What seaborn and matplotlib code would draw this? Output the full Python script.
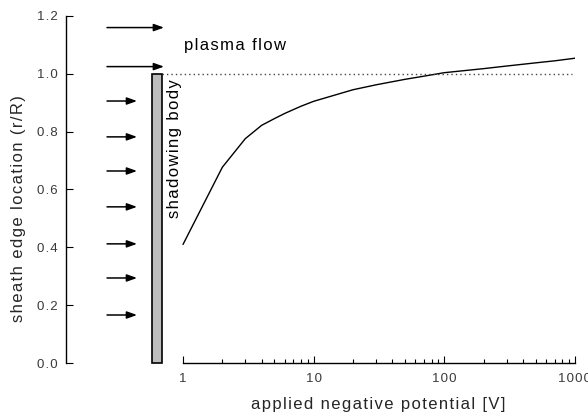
import matplotlib
matplotlib.use("Agg")
import matplotlib.pyplot as plt
import matplotlib.transforms as mtransforms
from matplotlib.patches import Rectangle
import seaborn as sns
import pandas as pd
import numpy as np

# ---- data ----
potential = [1, 2, 3, 4, 5, 6, 8, 10, 20, 30, 50, 70, 100, 200, 300, 500, 700, 1000]
sheath_edge = [0.41, 0.677, 0.776, 0.822, 0.845, 0.863, 0.888, 0.905, 0.945, 0.962,
               0.981, 0.992, 1.004, 1.018, 1.027, 1.038, 1.045, 1.054]
y_ticks = [0.0, 0.2, 0.4, 0.6, 0.8, 1.0, 1.2]
x_ticks = [1, 10, 100, 1000]
x_tick_labels = ["1", "10", "100", "1000"]
x_minor_ticks = [m * d for d in (1, 10, 100) for m in range(2, 10)]
flow_long_y = [1.16, 1.025]
flow_short_y = [0.906, 0.782, 0.664, 0.54, 0.412, 0.294, 0.166]
body_height = 1.0


def spaced(s):
    return "\u200a".join(s)


sns.set_theme(style="white")
plt.rcParams['font.family'] = ['Liberation Sans', 'DejaVu Sans']

fig = plt.figure(figsize=(5.88, 4.15), dpi=100)
ax = fig.add_axes([66/588, 1 - 363/415, 509/588, 347/415])

df = pd.DataFrame({"V": potential, "r": sheath_edge})
sns.lineplot(data=df, x="V", y="r", ax=ax, color="black", linewidth=1.0)

ax.set_xscale("log")
ax.set_xlim(0.1272, 1000)
ax.set_ylim(0, 1.2)

for s in ["top", "right"]:
    ax.spines[s].set_visible(False)
for s in ["left", "bottom"]:
    ax.spines[s].set_color("black")
    ax.spines[s].set_linewidth(1.0)
ax.spines["bottom"].set_bounds(1, 1000)
ax.spines["left"].set_bounds(0, 1.2)

ax.set_yticks(y_ticks)
ax.set_yticklabels([spaced(f"{v:.1f}") for v in y_ticks])
ax.xaxis.set_major_locator(matplotlib.ticker.FixedLocator(x_ticks))
ax.xaxis.set_major_formatter(matplotlib.ticker.FixedFormatter([spaced(t) for t in x_tick_labels]))
ax.xaxis.set_minor_locator(matplotlib.ticker.FixedLocator(x_minor_ticks))
ax.xaxis.set_minor_formatter(matplotlib.ticker.NullFormatter())
ax.tick_params(axis="both", which="major", direction="in", length=5, width=0.8,
               color="black", labelsize=9.5, labelcolor="#3a3a3a")
ax.tick_params(axis="x", which="major", pad=7)
ax.tick_params(axis="y", which="major", pad=6)
ax.tick_params(axis="x", which="minor", direction="in", length=3, width=0.8,
               color="black", bottom=True)
ax.tick_params(axis="y", which="both", left=True)
ax.tick_params(axis="x", which="major", bottom=True)

ax.set_xlabel(spaced("applied negative potential [V]"), fontsize=12)
ax.set_ylabel(spaced("sheath edge location (r/R)"), fontsize=12)
ax.xaxis.set_label_coords(0.613, -0.121)
ax.xaxis.label.set_va("center")
ax.yaxis.set_label_coords(-0.094, 0.444)
ax.yaxis.label.set_va("center")

blend = mtransforms.blended_transform_factory(ax.transAxes, ax.transData)

# shadowing body
ax.add_patch(Rectangle((0.1686, 0), 0.0196, body_height, transform=blend,
                       facecolor="#bdbdbd", edgecolor="black", linewidth=1.2,
                       clip_on=False, zorder=3))

# dotted reference line
ax.axhline(1.0, xmin=0.1886, xmax=0.9935, color="#444444", linestyle=(0, (1, 2.2)),
           linewidth=1.0)

# flow arrows
for y in flow_long_y:
    ax.annotate("", xy=(0.1925, y), xytext=(0.0806, y),
                xycoords=blend, textcoords=blend,
                arrowprops=dict(arrowstyle="-|>,head_length=0.5,head_width=0.18",
                                color="black", linewidth=1.1, shrinkA=0, shrinkB=0))
for y in flow_short_y:
    ax.annotate("", xy=(0.1395, y), xytext=(0.0806, y),
                xycoords=blend, textcoords=blend,
                arrowprops=dict(arrowstyle="-|>,head_length=0.5,head_width=0.18",
                                color="black", linewidth=1.1, shrinkA=0, shrinkB=0))

ax.text(0.231, 1.097, spaced("plasma flow"), transform=blend, fontsize=12,
        ha="left", va="center", color="black")
ax.text(0.214, 0.98, spaced("shadowing body"), transform=blend, fontsize=12,
        rotation=90, ha="center", va="top", color="black")

fig.savefig("out.png", dpi=100)
